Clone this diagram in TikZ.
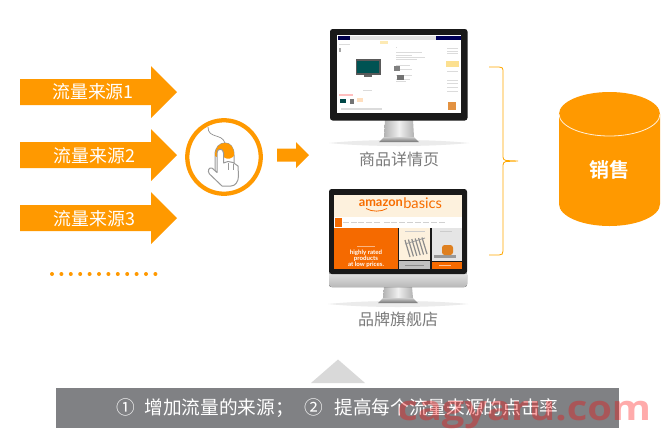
\documentclass[tikz,border=0pt]{standalone}
\usepackage{fontspec}
\setmainfont{Noto Sans CJK SC}[BoldFont={Noto Sans CJK SC Bold}]
\newfontfamily\wmfont{Open Sans}
\newfontfamily\latfont{Lato}
\usetikzlibrary{shapes.geometric,calc}
\definecolor{org}{HTML}{FF9900}
\definecolor{deep}{HTML}{F56A00}
\definecolor{cream}{HTML}{FDF1DD}
\definecolor{barg}{HTML}{808184}
\definecolor{tri}{HTML}{D9D9D9}
\definecolor{cap}{HTML}{7A7A7A}
\tikzset{
  flowtxt/.style={text=white,font=\fontsize{13.4pt}{14pt}\selectfont,inner sep=0pt},
  captxt/.style={text=cap,font=\fontsize{12pt}{14pt}\selectfont,inner sep=0pt},
  handline/.style={draw=black!40,line width=0.75pt,line join=round},
  blk/.style={fill=black!90,draw=none},
  tiny/.style={fill=black!14,draw=none}
}
\newcommand{\flowarrow}[1]{%
  \fill[org] (20,#1-13) -- (151,#1-13) -- (151,#1-26) -- (177,#1) -- (151,#1+26) -- (151,#1+13) -- (20,#1+13) -- cycle;}
\newcommand{\standbase}[3]{% centre x, top y, base y
  \fill[black!8] (#1-70,#3+1) .. controls (#1-30,#3-3) and (#1+30,#3-3) .. (#1+70,#3+1) .. controls (#1+30,#3+5) and (#1-30,#3+5) .. (#1-70,#3+1) -- cycle;
  \shade[left color=black!30,right color=black!30,middle color=black!6] (#1-14,#2) -- (#1+14,#2) -- (#1+15,#3-5) -- (#1-15,#3-5) -- cycle;
  \shade[top color=black!20,bottom color=black!55] (#1-15,#3-5) -- (#1+15,#3-5) -- (#1+20,#3) -- (#1-20,#3) -- cycle;}
\begin{document}
\begin{tikzpicture}[x=0.75pt,y=-0.75pt]
\useasboundingbox (0,0) rectangle (671,440);
\fill[white] (0,0) rectangle (671,440);
% flow arrows
\flowarrow{92}
\flowarrow{155}
\flowarrow{218}
\node[flowtxt] (f1) at (93,92) {流量来源1};
\node[flowtxt] (f2) at (94.5,156) {流量来源2};
\node[flowtxt] (f3) at (94.5,219) {流量来源3};
% dots
\foreach \i in {0,...,11} \fill[org] ({52+\i*9.4},274) circle (2);
% click circle
\node[circle,draw=org,line width=3.2pt,fill=white,minimum size=73.5*0.75pt,inner sep=0pt] (click) at (224,157) {};
\draw[black!45,line width=0.5pt] (208,127) .. controls (208,139) and (222,133) .. (225,143);
\draw[handline,fill=white] (215,155) .. controls (215,147) and (220,143) .. (225,143) .. controls (230,143) and (234,147) .. (234,155) -- (234,168) -- (215,175) -- cycle;
\fill[org] (215,156) .. controls (215,147) and (220,143) .. (225,143) .. controls (230,143) and (234,147) .. (234,155) -- (233,157) .. controls (228,161) and (224,157) .. (223.5,157) -- (217,157) -- cycle;
\draw[handline,fill=white] (217,153) .. controls (217,148) and (223.5,148) .. (223.5,153) -- (223.5,163) -- (228,161.5) -- (233,162.5) -- (238,166) -- (238.5,176) .. controls (238.5,182) and (235,186) .. (231,186) -- (222,186) -- (209.5,174) .. controls (207,171) and (209,167) .. (212,168) -- (217,172.5) -- cycle;
\draw[black!40,line width=0.6pt] (228,163) -- (228,170) (233,163.5) -- (233,170);
% small arrow
\fill[org] (277,148.5) -- (296,148.5) -- (296,142) -- (309,155) -- (296,168) -- (296,161.5) -- (277,161.5) -- cycle;
% monitor 1
\standbase{399}{120}{142}
\fill[blk,rounded corners=2pt] (330,29) rectangle (467.5,120.5);
\fill[white] (337,35) rectangle (461,113);
\fill[black!70!blue] (338,35.5) rectangle (350,40);
\fill[black!12] (350,36) rectangle (436,39.5);
\fill[black!65!blue] (436,35.5) rectangle (461,40);
\fill[yellow!50!orange,opacity=.3] (380,41) rectangle (388,43.5);
\fill[black!65] (355.5,59) rectangle (380.5,75);
\fill[teal!65!black] (357,60.5) rectangle (379,72.5);
\fill[black!60] (364,75) rectangle (372,77);
\foreach \yy/\xa in {47/385,52/410,55/400,57/413,59/405,65/398,69/400,75/400,79/398,81/394} \fill[tiny] (396,\yy) rectangle (\xa+12,\yy+0.9);
\fill[tiny] (339,44) rectangle (350,45);
\fill[black!35] (339,48) rectangle (341,52);
\fill[black!50] (394,66) rectangle (400,71);
\fill[black!55] (397,75) rectangle (404,80);
\fill[yellow!50!orange,opacity=.45] (446,61) rectangle (459,67);
\foreach \yy in {48,51,53,71,80,83,87,91} \fill[tiny] (447,\yy) rectangle (458,\yy+1);
\fill[orange!50!brown,opacity=.85] (448,102) rectangle (456,110);
\fill[red!25] (339,94) rectangle (353,95.5);
\fill[teal!55!black] (340,99) rectangle (346,103);
\fill[black!55] (350,99) rectangle (354,104);
\fill[orange!25] (357,98) rectangle (363,102);
\fill[tiny] (341,108) rectangle (382,109.5);
\fill[tiny] (363,90) rectangle (372,90.8);
\node[captxt] (detail) at (399,159) {商品详情页};
% monitor 2
\standbase{398}{287}{303}
\fill[top color=black!10,bottom color=black!28,rounded corners=2pt] (329,272) rectangle (467,287);
\fill[blk,rounded corners=2pt] (329,189) rectangle (467,274);
\fill[cream] (334,195) rectangle (462,217);
\fill[white] (334,217) rectangle (462,228);
\fill[deep] (335,218) rectangle (342,227);
\foreach \xx in {343,351,358,366,374,384,391,399,407,415,423,431,439} \fill[black!18] (\xx,222) rectangle (\xx+5.5,223);
\fill[deep] (334,228) rectangle (398,269);
\fill[cream] (399,228) rectangle (430,260);
\fill[black!25] (399,261) rectangle (430,269);
\fill[black!10] (432,228) rectangle (462,261);
\fill[deep] (432,262) rectangle (462,269);
\foreach \k in {0,...,5} \draw[black!45,line width=0.9pt] ({405+\k*3.4},{240-\k*0.5}) -- ({410+\k*3.4},{257-\k*0.6});
\draw[black!40,line width=0.6pt] (405,244) -- (425,238);
\fill[black!40] (434,255) rectangle (456,258);
\fill[orange!50!brown,rounded corners=2pt] (442,245) rectangle (453,255);
\fill[black!20] (405,231) rectangle (425,232);
\fill[black!20] (440,231) rectangle (452,232);
\fill[black!45] (405,264.5) rectangle (424,265.5);
\fill[white,opacity=.6] (439,265) rectangle (451,266);
\fill[white,opacity=.5] (357,245.5) rectangle (375,246.5);
\node[inner sep=0pt,anchor=west,text=deep!85!orange,font=\latfont\bfseries\fontsize{9.6pt}{11pt}\selectfont] (amz) at (358.5,203) {amazon};
\node[inner sep=0pt,anchor=west,text=deep!85!orange,font=\latfont\fontsize{11pt}{11pt}\selectfont] (bas) at (403,203) {basics};
\draw[deep,line width=0.6pt] (366,208.5) .. controls (372,212) and (381,212) .. (387,208.5);
\node[inner sep=0pt,text=white,align=center,font=\latfont\bfseries\fontsize{4.6pt}{4.6pt}\selectfont] (hr) at (366,259) {highly rated\\products\\at low prices.};
\node[captxt] (brand) at (398,319) {品牌旗舰店};
% brace
\coordinate (bt) at (489,67);
\coordinate (bb) at (489,255);
\coordinate (btip) at (518,161);
\draw[org!85!yellow,line width=0.6pt] (bt) -- (499,67) .. controls (502,67) and (503,68) .. (503,70) -- (503,157) .. controls (503,159) and (504,160) .. (506,160.5) -- (btip) -- (506,161.5) .. controls (504,162) and (503,163) .. (503,165) -- (503,251) .. controls (503,254) and (502,255) .. (499,255) -- (bb);
% cylinder
\fill[org] (559,114) -- (559,204) arc[start angle=180,end angle=360,x radius=50.5,y radius=-22] -- (660,114) arc[start angle=0,end angle=180,x radius=50.5,y radius=-22] -- cycle;
\draw[white!85!org,line width=0.6pt] (559,114) arc[start angle=180,end angle=360,x radius=50.5,y radius=-22];
\node[inner sep=0pt,text=white,font=\bfseries\fontsize{15pt}{16pt}\selectfont] (sale) at (609,170) {销售};
% bottom
\fill[tri] (338,359.5) -- (365,383) -- (311,383) -- cycle;
\fill[barg] (56,388) rectangle (619,428);
\node[inner sep=0pt,anchor=west,text=white,font=\fontsize{14pt}{15pt}\selectfont] (tip) at (116,408.5) {①\hspace{0.51em}增加流量的来源；\hspace{0.57em}②\hspace{0.62em}提高每个流量来源的点击率};
% watermark
\node[inner sep=0pt,anchor=base west,text=red,opacity=.33,font=\wmfont\bfseries\fontsize{26pt}{26pt}\selectfont] (wm) at (397,420) {\scalebox{1.15}[1]{cagyaru.com}};
\end{tikzpicture}
\end{document}
